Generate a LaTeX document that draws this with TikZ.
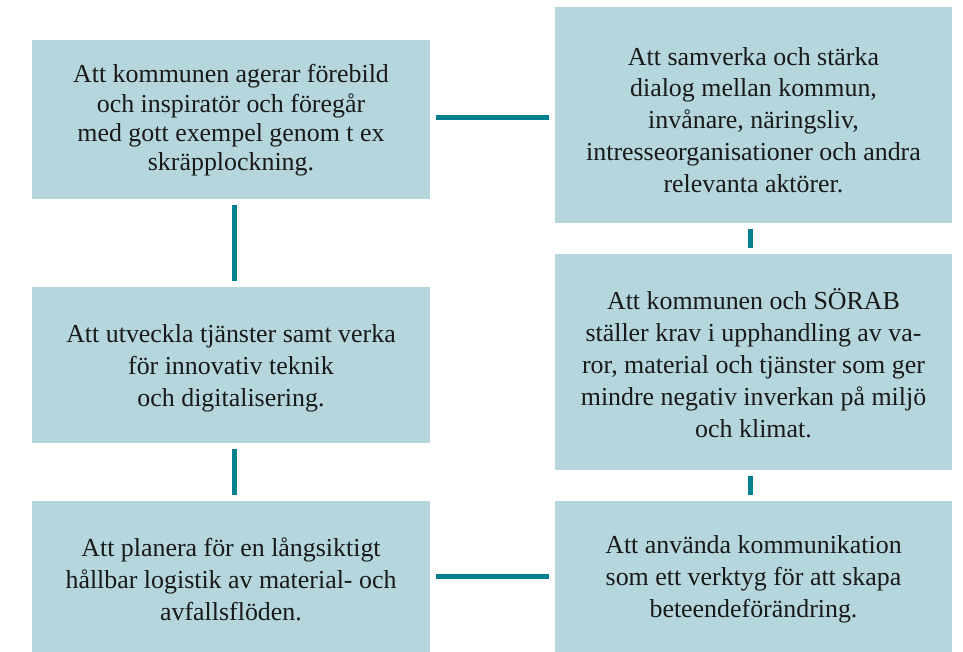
\documentclass[tikz,border=0pt]{standalone}
\usepackage{fontspec}
\setmainfont{Liberation Serif}
\definecolor{boxfill}{HTML}{B4D6DC}
\definecolor{linkcol}{HTML}{02808E}
\begin{document}
\begin{tikzpicture}[x=1bp,y=-1bp,
  box/.style={fill=boxfill, draw=none, inner sep=0pt},
  txt/.style={inner sep=0pt, align=center,
    font=\fontsize{26}{32}\selectfont, text=black!90},
  link/.style={draw=linkcol, line width=5bp, shorten <=5.5bp, shorten >=5.5bp}]
\useasboundingbox (0,0) rectangle (963,652);
% boxes
\node[box, minimum width=398bp, minimum height=159bp] (lt) at (231,119.5) {};
\node[box, minimum width=398bp, minimum height=156bp] (lm) at (231,365) {};
\node[box, minimum width=398bp, minimum height=151bp] (lb) at (231,576.5) {};
\node[box, minimum width=397bp, minimum height=216bp] (rt) at (753.5,115) {};
\node[box, minimum width=397bp, minimum height=216bp] (rm) at (753.5,362) {};
\node[box, minimum width=397bp, minimum height=151bp] (rb) at (753.5,576.5) {};
% texts
\node[txt, font=\fontsize{26}{29.5}\selectfont] (ltt) at ([yshift=-1bp]lt.center)
  {Att kommunen agerar förebild\\och inspiratör och föregår\\med gott exempel genom t ex\\skräpplockning.};
\node[txt] (lmt) at ([yshift=-3bp]lm.center)
  {Att utveckla tjänster samt verka\\för innovativ teknik\\och digitalisering.};
\node[txt] (lbt) at ([yshift=-3bp]lb.center)
  {Att planera för en långsiktigt\\hållbar logistik av material- och\\avfallsflöden.};
\node[txt] (rtt) at ([yshift=-5bp]rt.center)
  {Att samverka och stärka\\dialog mellan kommun,\\invånare, näringsliv,\\intresseorganisationer och andra\\relevanta aktörer.};
\node[txt] (rmt) at ([yshift=-1bp]rm.center)
  {Att kommunen och SÖRAB\\ställer krav i upphandling av va-\\ror, material och tjänster som ger\\mindre negativ inverkan på miljö\\och klimat.};
\node[txt] (rbt) at ([yshift=-3bp]rb.center)
  {Att använda kommunikation\\som ett verktyg för att skapa\\beteendeförändring.};
% connectors
\draw[link] ([yshift=2bp]lt.east) -- ([yshift=2bp]lt.east -| rt.west);
\draw[link] ([xshift=3.5bp]lt.south) -- ([xshift=3.5bp]lm.north);
\draw[link] ([xshift=3.5bp]lm.south) -- ([xshift=3.5bp]lb.north);
\draw[link] (lb.east) -- (lb.east -| rb.west);
\draw[link] ([xshift=-3bp]rt.south) -- ([xshift=-3bp]rm.north);
\draw[link] ([xshift=-3bp]rm.south) -- ([xshift=-3bp]rb.north);
\end{tikzpicture}
\end{document}
